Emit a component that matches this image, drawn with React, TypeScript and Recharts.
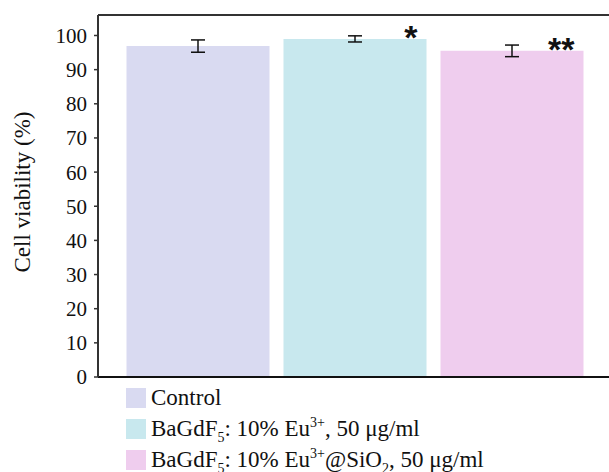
import React from "react";
import { BarChart, Bar, XAxis, YAxis, ErrorBar, Cell, LabelList, Label } from "recharts";

const categories = ["Control", "BaGdF5: 10% Eu3+, 50 μg/ml", "BaGdF5: 10% Eu3+@SiO2, 50 μg/ml"];
const viability = [96.9, 99.0, 95.5];
const errors = [1.8, 0.9, 1.7];
const significance = ["", "*", "**"];
const barColors = ["#d9daf1", "#c8e8ee", "#efcdee"];
const yTicks = [0, 10, 20, 30, 40, 50, 60, 70, 80, 90, 100];

const data = categories.map((c, i) => ({
  name: c,
  value: viability[i],
  err: errors[i],
  sig: significance[i],
}));

const serif = "'Liberation Serif', 'Times New Roman', serif";
const small = { fontSize: 14, lineHeight: 0 };

const legendLabels: React.ReactNode[] = [
  <span>Control</span>,
  <span>
    BaGdF<sub style={small}>5</sub>: 10% Eu<sup style={small}>3+</sup>, 50 μg/ml
  </span>,
  <span>
    BaGdF<sub style={small}>5</sub>: 10% Eu<sup style={small}>3+</sup>@SiO<sub style={small}>2</sub>, 50 μg/ml
  </span>,
];

const LegendBlock = () => (
  <div style={{ position: "absolute", left: 126, top: 388, fontFamily: serif, fontSize: 23, color: "#111" }}>
    {categories.map((c, i) => (
      <div key={c} style={{ display: "flex", alignItems: "center", height: 20, marginBottom: 11, lineHeight: "20px", whiteSpace: "nowrap" }}>
        <div style={{ width: 20, height: 20, background: barColors[i], marginRight: 5, flex: "none" }} />
        {legendLabels[i]}
      </div>
    ))}
  </div>
);

const SigLabel = (props: any) => {
  const { x, y, width, index } = props;
  const s = significance[index];
  if (!s) return null;
  return (
    <text
      x={x + width - 9}
      y={y + 10}
      textAnchor="end"
      fontFamily="'Liberation Sans', Arial, sans-serif"
      fontWeight="bold"
      fontSize={34}
      fill="#111"
    >
      {s}
    </text>
  );
};

export default function App() {
  return (
    <div style={{ position: "absolute", left: 0, top: 0, width: 609, height: 472, background: "#fff", overflow: "hidden" }}>
      <BarChart
        width={609}
        height={472}
        data={data}
        margin={{ top: 14, right: 0, bottom: 94, left: 0 }}
        barSize={143}
      >
        <XAxis
          dataKey="name"
          tick={false}
          tickLine={false}
          height={1}
          padding={{ left: 21.5, right: 18.5 }}
          axisLine={{ stroke: "#111", strokeWidth: 2 }}
        />
        <XAxis
          xAxisId="top"
          orientation="top"
          dataKey="name"
          tick={false}
          tickLine={false}
          height={1}
          axisLine={{ stroke: "#333", strokeWidth: 2 }}
        />
        <YAxis
          width={98}
          domain={[0, 106]}
          ticks={yTicks}
          interval={0}
          tickSize={4}
          tickMargin={7}
          tickLine={{ stroke: "#333", strokeWidth: 1.5 }}
          axisLine={{ stroke: "#333", strokeWidth: 2 }}
          tick={{ fontFamily: serif, fontSize: 21, fill: "#111" }}
        >
          <Label
            value="Cell viability (%)"
            angle={-90}
            position="center"
            dx={-27}
            dy={-4}
            style={{ fontFamily: serif, fontSize: 23, fill: "#111" }}
          />
        </YAxis>
        <Bar dataKey="value" isAnimationActive={false}>
          {data.map((d, i) => (
            <Cell key={d.name} fill={barColors[i]} />
          ))}
          <ErrorBar dataKey="err" width={7} stroke="#111" strokeWidth={1.5} />
          <LabelList dataKey="sig" content={<SigLabel />} />
        </Bar>
      </BarChart>
      <LegendBlock />
    </div>
  );
}
